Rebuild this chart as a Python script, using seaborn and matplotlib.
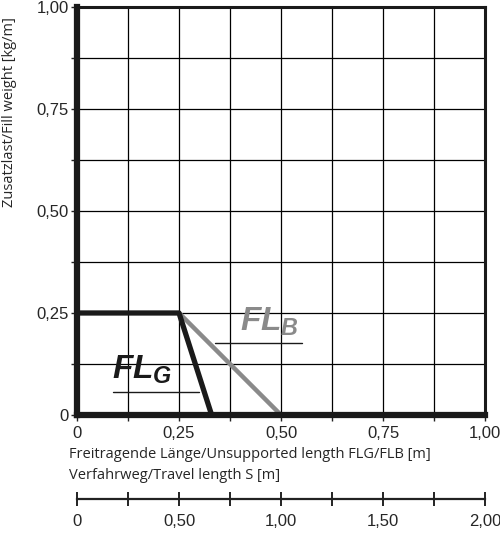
import numpy as np
import pandas as pd
import matplotlib
matplotlib.use("Agg")
import matplotlib.pyplot as plt
import seaborn as sns

# Data
flg_x = [0, 0.25, 0.33]
flg_y = [0.25, 0.25, 0]
flb_x = [0.25, 0.5]
flb_y = [0.25, 0]

main_ticks = [0, 0.25, 0.5, 0.75, 1.0]
main_labels = ["0", "0,25", "0,50", "0,75", "1,00"]
travel_ticks = [0, 0.5, 1.0, 1.5, 2.0]
travel_labels = ["0", "0,50", "1,00", "1,50", "2,00"]

sns.set_style("white")
plt.rcParams["font.family"] = ["Liberation Sans Narrow", "Liberation Sans", "DejaVu Sans"]
plt.rcParams["mathtext.fontset"] = "custom"
plt.rcParams["mathtext.it"] = "Liberation Sans:italic:bold"
plt.rcParams["mathtext.rm"] = "Liberation Sans:italic:bold"

fig = plt.figure(figsize=(5.0, 5.33), dpi=100)
ax = fig.add_axes([0.154, 0.2214, 0.816, 0.7655])

# grid
grid = np.arange(0, 1.0001, 0.125)
for g in grid[1:-1]:
    ax.axvline(g, color="black", lw=0.9, zorder=1)
    ax.axhline(g, color="black", lw=0.9, zorder=1)

# curves
sns.lineplot(x=flb_x, y=flb_y, sort=False, estimator=None, color="#8a8a8a", lw=3.2, ax=ax, zorder=3)
sns.lineplot(x=flg_x, y=flg_y, sort=False, estimator=None, color="#1a1a1a", lw=3.8, ax=ax, zorder=4)

ax.set_xlim(0, 1)
ax.set_ylim(0, 1)
ax.set_xticks(main_ticks)
ax.set_xticklabels(main_labels)
ax.set_yticks(main_ticks)
ax.set_yticklabels(main_labels)
ax.set_xticks(grid, minor=True)
ax.set_yticks(grid, minor=True)
ax.tick_params(which="both", direction="out", length=4, width=1.0, color="#222222",
               labelsize=12, bottom=True, left=True)
ax.tick_params(axis="x", pad=4)
ax.tick_params(axis="y", pad=2)

for side, w in [("left", 4.5), ("bottom", 4.5), ("top", 2.2), ("right", 2.2)]:
    ax.spines[side].set_visible(True)
    ax.spines[side].set_linewidth(w)
    ax.spines[side].set_color("#1a1a1a")
    ax.spines[side].set_zorder(5)

# labels FL_G and FL_B
ax.text(0.085, 0.11, r"$FL_G$", fontsize=24, color="#1a1a1a", va="center", ha="left", zorder=6)
ax.plot([0.088, 0.30], [0.056, 0.056], color="#1a1a1a", lw=1.0)
ax.text(0.40, 0.228, r"$FL_B$", fontsize=24, color="#8a8a8a", va="center", ha="left", zorder=6)
ax.plot([0.338, 0.551], [0.176, 0.176], color="#1a1a1a", lw=1.0)

# axis titles
fig.text(0.02, 0.79, "Zusatzlast/Fill weight [kg/m]", rotation=90, ha="center", va="center",
         fontsize=10.5, family=["Open Sans", "DejaVu Sans"])
fig.text(0.138, 0.148, "Freitragende Länge/Unsupported length FLG/FLB [m]", ha="left", va="center",
         fontsize=10.5, family=["Open Sans", "DejaVu Sans"])
fig.text(0.138, 0.107, "Verfahrweg/Travel length S [m]", ha="left", va="center",
         fontsize=10.5, family=["Open Sans", "DejaVu Sans"])

# secondary travel-length scale
ax2 = fig.add_axes([0.154, 0.0638, 0.816, 0.0001])
ax2.set_xlim(0, 2)
ax2.set_yticks([])
for side in ["left", "right", "top"]:
    ax2.spines[side].set_visible(False)
ax2.spines["bottom"].set_linewidth(1.6)
ax2.spines["bottom"].set_color("#222222")
ax2.set_xticks(travel_ticks)
ax2.set_xticklabels(travel_labels)
ax2.set_xticks(np.arange(0, 2.0001, 0.25), minor=True)
ax2.tick_params(which="both", direction="inout", length=10, width=1.4, color="#222222",
                labelsize=12, bottom=True, pad=6)
ax2.patch.set_alpha(0)

fig.savefig("out.png", dpi=100)
